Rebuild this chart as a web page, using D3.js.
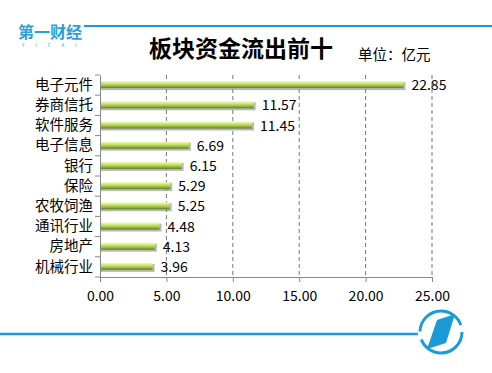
<!DOCTYPE html>
<html>
<head>
<meta charset="utf-8">
<script src="https://cdn.jsdelivr.net/npm/d3@7"></script>
<style>
  body { margin: 0; background: #fff; }
  svg { display: block; font-family: "Noto Sans CJK SC", "Microsoft YaHei", sans-serif; }
</style>
</head>
<body>
<div id="chart"></div>
<script>
// sectors and net outflow (100m yuan)
const categories = ['电子元件', '券商信托', '软件服务', '电子信息', '银行', '保险', '农牧饲渔', '通讯行业', '房地产', '机械行业'];
const values = [22.85, 11.57, 11.45, 6.69, 6.15, 5.29, 5.25, 4.48, 4.13, 3.96];
const xTicks = [0, 5, 10, 15, 20, 25];

const W = 492, H = 373;
const svg = d3.select('#chart').append('svg')
  .attr('width', W)
  .attr('height', H);

const defs = svg.append('defs');
const grad = defs.append('linearGradient')
  .attr('id', 'barGrad')
  .attr('x1', 0).attr('y1', 0).attr('x2', 0).attr('y2', 1);
grad.append('stop').attr('offset', '0%').attr('stop-color', '#f2fcb8');
grad.append('stop').attr('offset', '35%').attr('stop-color', '#cde474');
grad.append('stop').attr('offset', '70%').attr('stop-color', '#98b944');
grad.append('stop').attr('offset', '100%').attr('stop-color', '#5a7822');

// header: logo text + blue line
svg.append('line')
  .attr('x1', 84).attr('x2', W).attr('y1', 26).attr('y2', 26)
  .attr('stroke', '#1a9ad6').attr('stroke-width', 2);

svg.append('text')
  .attr('x', 18).attr('y', 38)
  .text('第一财经')
  .style('font-size', '16px')
  .style('font-weight', 'bold')
  .style('fill', '#2a9fd8');

svg.append('text')
  .attr('x', 22).attr('y', 47)
  .text('Y I C A I')
  .style('font-size', '4.5px')
  .style('letter-spacing', '5px')
  .style('fill', '#2a9fd8');

svg.append('text')
  .attr('x', 241).attr('y', 57)
  .attr('text-anchor', 'middle')
  .text('板块资金流出前十')
  .style('font-size', '23px')
  .style('font-weight', 'bold')
  .style('fill', '#000');

svg.append('text')
  .attr('x', 358).attr('y', 60)
  .text('单位：亿元')
  .style('font-size', '14.5px')
  .style('fill', '#000');

// plot
const x = d3.scaleLinear().domain([0, 25]).range([100, 432]);
const y = d3.scaleBand().domain(categories).range([75, 277]);

const g = svg.append('g');

// dashed gridlines
g.selectAll('.grid')
  .data(xTicks.slice(1))
  .join('line')
  .attr('x1', d => x(d)).attr('x2', d => x(d))
  .attr('y1', 75).attr('y2', 277)
  .attr('stroke', '#777')
  .attr('stroke-dasharray', '4,3');

// bar shadows
g.selectAll('.shadow')
  .data(values)
  .join('rect')
  .attr('x', x(0) + 1)
  .attr('y', (d, i) => y(categories[i]) + y.bandwidth() / 2 - 3)
  .attr('width', d => x(d) - x(0) + 1)
  .attr('height', 8)
  .attr('fill', '#8a8a80')
  .attr('opacity', 0.6);

g.selectAll('.bar')
  .data(values)
  .join('rect')
  .attr('x', x(0))
  .attr('y', (d, i) => y(categories[i]) + y.bandwidth() / 2 - 4)
  .attr('width', d => x(d) - x(0))
  .attr('height', 7)
  .attr('fill', 'url(#barGrad)');

g.selectAll('.val')
  .data(values)
  .join('text')
  .attr('x', d => x(d) + 8)
  .attr('y', (d, i) => y(categories[i]) + y.bandwidth() / 2 + 5)
  .text(d => d3.format('.2f')(d))
  .style('font-size', '14px')
  .style('fill', '#000');

// axes
const xAxis = g.append('g')
  .attr('transform', 'translate(0,277)')
  .call(d3.axisBottom(x).tickValues(xTicks).tickFormat(d3.format('.2f')).tickSize(5).tickSizeOuter(0));
xAxis.select('.domain').attr('stroke', '#888');
xAxis.selectAll('.tick line').attr('stroke', '#888');
xAxis.selectAll('text')
  .attr('dy', '1.15em')
  .style('font-size', '14px')
  .style('fill', '#000')
  .style('font-family', '"Noto Sans CJK SC", sans-serif');

const yAxis = g.append('g')
  .attr('transform', 'translate(100,0)')
  .call(d3.axisLeft(y).tickSize(0).tickPadding(7));
yAxis.select('.domain').attr('stroke', '#888');
yAxis.selectAll('text')
  .style('font-size', '14.5px')
  .style('fill', '#000')
  .style('font-family', '"Noto Sans CJK SC", sans-serif');

// band boundary ticks on y axis
g.selectAll('.ytick')
  .data(d3.range(categories.length + 1))
  .join('line')
  .attr('x1', 95).attr('x2', 100)
  .attr('y1', i => 75 + i * y.step())
  .attr('y2', i => 75 + i * y.step())
  .attr('stroke', '#888');

// footer line and round logo
svg.append('line')
  .attr('x1', 0).attr('x2', 418).attr('y1', 334).attr('y2', 334)
  .attr('stroke', '#1a9ad6').attr('stroke-width', 2.5);

const logo = svg.append('g').attr('transform', 'translate(441,332)');
logo.append('circle')
  .attr('r', 21)
  .attr('fill', 'none')
  .attr('stroke', '#1a9ad6')
  .attr('stroke-width', 3)
  .attr('stroke-dasharray', '58,8,58,8');
logo.append('path')
  .attr('d', 'M-4,-12 L14,-18 L5,11 L-14,17 Z')
  .attr('fill', '#1a9ad6');
</script>
</body>
</html>
